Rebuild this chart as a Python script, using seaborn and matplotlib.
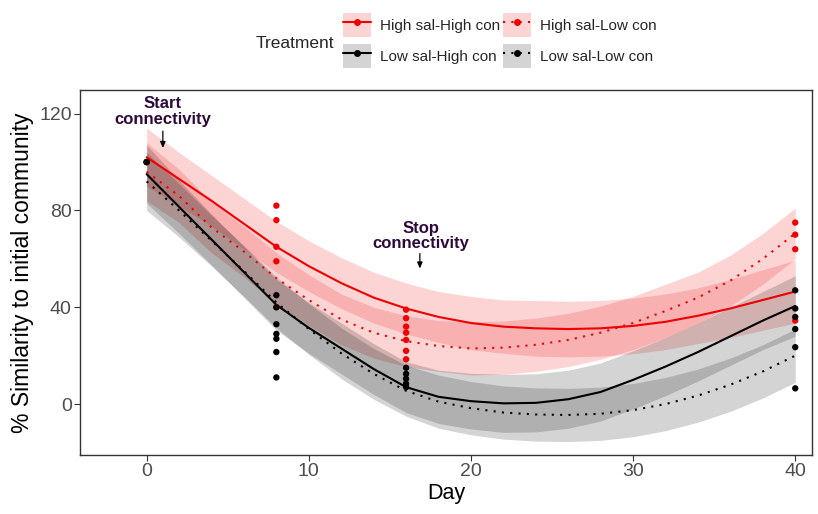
# %% libraries
import numpy as np
import pandas as pd
import matplotlib
matplotlib.use("Agg")
import matplotlib.pyplot as plt
import seaborn as sns
from matplotlib.patches import Patch
from matplotlib.lines import Line2D

# %% data

treatments = ["High sal-High con", "High sal-Low con",
              "Low sal-High con", "Low sal-Low con"]

# smoothed fits, every 2 days
days = list(range(0, 41, 2))
fit_hh = [102, 93, 84, 74.5, 65, 57, 50, 44, 39.5, 36, 33.5,
          32, 31.3, 31, 31.3, 32.3, 34, 36.5, 39.5, 43, 46.5]
fit_hl = [96, 86, 73, 63, 52, 43, 35, 29.5, 26, 24, 23,
          23.3, 24.5, 26.5, 29.5, 33.5, 38.5, 44, 51, 60, 70.5]
fit_lh = [95, 81.5, 68, 54.5, 41, 31.5, 23, 14.5, 7, 3, 1.2,
          0.3, 0.5, 2, 5, 10, 15.5, 21.5, 28, 34.5, 40.5]
fit_ll = [92, 80, 67.5, 55, 42, 31, 21, 12.5, 5.5, 1, -1.7,
          -3.5, -4.3, -4.5, -4, -2.5, 0, 3.5, 8, 13.5, 20]

# half width of the confidence band
ci_hh = [12, 11, 10.5, 10.5, 10.5, 10.5, 10.5, 10.5, 10.5, 10.5, 11,
         11, 11.5, 11.5, 11.5, 11.5, 11.5, 11.5, 12, 12.5, 13]
ci_hl = [12, 11, 10.5, 10.5, 10.5, 10.5, 10.5, 10.5, 10.5, 10.5, 11,
         11, 11, 11, 11, 11, 11, 10.5, 10.5, 10.5, 10.5]
ci_lh = [12, 11, 10.5, 10.5, 10.5, 10.5, 10.5, 10.5, 10.5, 11, 11.5,
         12, 12, 12, 12, 12, 12, 12, 12, 12, 12.5]
ci_ll = [12, 11, 10.5, 10.5, 10.5, 10.5, 10.5, 10.5, 10.5, 11, 11,
         11, 11, 11, 11, 11, 11, 11, 11, 11, 11]

# raw points (high salinity = red, low salinity = black)
red_day = [0, 0, 8, 8, 8, 8, 8, 16, 16, 16, 16, 16, 16, 16, 40, 40, 40, 40]
red_val = [100, 100, 82, 76, 65, 59, 40, 39, 35.5, 32, 29.5, 26.5, 22, 18.5,
           75, 70, 64, 34.5]
black_day = [0, 0, 8, 8, 8, 8, 8, 8, 8, 16, 16, 16, 16, 16,
             40, 40, 40, 40, 40, 40]
black_val = [100, 100, 45, 40, 33, 29, 27, 21.5, 11, 15, 12.5, 10.5, 8.5, 7,
             47, 39.5, 36, 31, 23.5, 6.5]

# %% tables

RED = "#EE0000"
colors = {"High sal-High con": RED, "High sal-Low con": RED,
          "Low sal-High con": "black", "Low sal-Low con": "black"}
dash_map = {"High sal-High con": "", "High sal-Low con": (1, 3),
            "Low sal-High con": "", "Low sal-Low con": (1, 3)}

fits = {"High sal-High con": (fit_hh, ci_hh), "High sal-Low con": (fit_hl, ci_hl),
        "Low sal-High con": (fit_lh, ci_lh), "Low sal-Low con": (fit_ll, ci_ll)}

df_fit = pd.concat([pd.DataFrame({"Day": days, "fit": f, "ci": c, "Treatment": t})
                    for t, (f, c) in fits.items()], ignore_index=True)

df_pts = pd.concat([
    pd.DataFrame({"Day": red_day, "value": red_val, "Salinity": "High"}),
    pd.DataFrame({"Day": black_day, "value": black_val, "Salinity": "Low"}),
], ignore_index=True)

# %% plot
sns.set_theme(style="white")
plt.rcParams["font.family"] = ["Liberation Sans", "DejaVu Sans"]

fig = plt.figure(figsize=(8.18, 5.14), dpi=100)
ax = fig.add_axes([0.098, 0.115, 0.895, 0.71])

for t in treatments:
    sub = df_fit[df_fit["Treatment"] == t]
    ax.fill_between(sub["Day"], sub["fit"] - sub["ci"], sub["fit"] + sub["ci"],
                    color=colors[t], alpha=0.17, linewidth=0, zorder=1)

sns.lineplot(data=df_fit, x="Day", y="fit", hue="Treatment", style="Treatment",
             palette=colors, dashes=dash_map, linewidth=1.5, errorbar=None,
             legend=False, ax=ax, zorder=2)

sns.scatterplot(data=df_pts, x="Day", y="value", hue="Salinity",
                palette={"High": RED, "Low": "black"}, s=21, linewidth=0,
                legend=False, ax=ax, zorder=3)

ax.set_xlim(-4.1, 41.05)
ax.set_ylim(-21, 129.8)
ax.set_xticks([0, 10, 20, 30, 40])
ax.set_yticks([0, 40, 80, 120])
ax.set_xlabel("Day", fontsize=15.5, color="black", labelpad=2)
ax.set_ylabel("% Similarity to initial community", fontsize=16.5, color="black",
              labelpad=4)
ax.tick_params(axis="both", labelsize=14, labelcolor="#4D4D4D", color="#333333",
               length=4, width=0.8, direction="out", bottom=True, left=True, pad=2)
for s in ax.spines.values():
    s.set_color("#333333")
    s.set_linewidth(1.0)

# annotations
ann_col = "#2E0A3A"
arrow = dict(arrowstyle="-|>,head_width=0.13,head_length=0.3",
             color="black", lw=0.9, shrinkA=0, shrinkB=0)
ax.text(1.0, 114.5, "Start\nconnectivity", ha="center", va="bottom",
        fontsize=12, fontweight="bold", color=ann_col, linespacing=1.05)
ax.annotate("", xy=(1.0, 105.8), xytext=(1.0, 112.8), arrowprops=arrow)
ax.text(16.9, 63.2, "Stop\nconnectivity", ha="center", va="bottom",
        fontsize=12, fontweight="bold", color=ann_col, linespacing=1.05)
ax.annotate("", xy=(16.85, 56.0), xytext=(16.85, 62.2), arrowprops=arrow)

# legend
handles = []
for t in ["High sal-High con", "Low sal-High con", "High sal-Low con", "Low sal-Low con"]:
    ls = "-" if dash_map[t] == "" else (0, (1, 3))
    bg = Patch(facecolor=colors[t], alpha=0.17, edgecolor="none")
    ln = Line2D([], [], color=colors[t], linestyle=ls, linewidth=1.5,
                marker="o", markersize=5, markeredgewidth=0)
    handles.append((bg, ln))
labels = ["High sal-High con", "Low sal-High con", "High sal-Low con", "Low sal-Low con"]
fig.legend(handles, labels, ncol=2, loc="center", bbox_to_anchor=(0.611, 0.921),
           frameon=False, fontsize=11, handlelength=1.85, handleheight=2.0,
           handletextpad=0.6, columnspacing=0.15, labelspacing=0.5,
           borderpad=0.2)
fig.text(0.3606, 0.916, "Treatment", ha="center", va="center", fontsize=12.5)

fig.savefig("out.png", dpi=100)
